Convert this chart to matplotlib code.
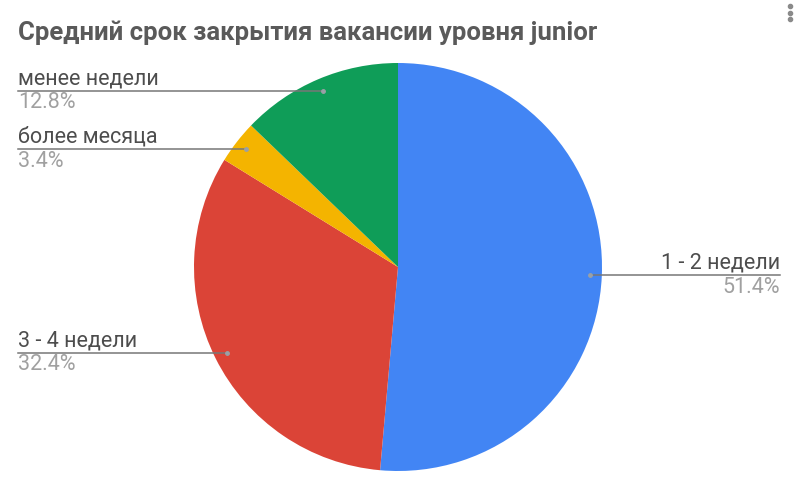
import numpy as np
import matplotlib
matplotlib.use("Agg")
import matplotlib.pyplot as plt

plt.rcParams['font.family'] = ['Roboto', 'DejaVu Sans']

# data
labels = ['1 - 2 недели', '3 - 4 недели', 'более месяца', 'менее недели']
values = [51.4, 32.4, 3.4, 12.8]
colors = ['#4285F4', '#DB4437', '#F4B400', '#0F9D58']
title = 'Средний срок закрытия вакансии уровня junior'

W, H = 800, 492
fig = plt.figure(figsize=(W / 100, H / 100), dpi=100)
ax = fig.add_axes([0, 0, 1, 1])

def Y(y):
    # pixel row (from top) -> data y
    return H - y

cx, cy, R = 398, 267, 204
wedges, _ = ax.pie(values, colors=colors, startangle=90, counterclock=False,
                   center=(cx, Y(cy)), radius=R,
                   wedgeprops=dict(linewidth=0))
ax.set_xlim(0, W)
ax.set_ylim(0, H)
ax.set_aspect('equal')
ax.axis('off')

# labels with leader lines
for w, lab, v in zip(wedges, labels, values):
    ang = np.deg2rad((w.theta1 + w.theta2) / 2)
    dx = cx + 0.94 * R * np.cos(ang)
    dy = Y(cy) + 0.94 * R * np.sin(ang)
    if np.cos(ang) >= 0:
        x_end, ha = 780, 'right'
    else:
        x_end, ha = 18, 'left'
    ax.plot([dx, x_end], [dy, dy], color='#777777', lw=1.1, zorder=3)
    ax.plot(dx, dy, 'o', ms=2.5, color='#9aa0a6', zorder=4)
    ax.text(x_end, dy + 12, lab, ha=ha, va='center', fontsize=15.5, color='#4d4d4d')
    ax.text(x_end, dy - 12, f'{v:.1f}%', ha=ha, va='center', fontsize=15.5, color='#a0a0a0')

ax.text(18, Y(33), title, ha='left', va='center', fontsize=18.5,
        fontweight='bold', color='#5a5a5a')

# menu dots in the corner
ax.plot([790, 790, 790], [Y(6), Y(13), Y(19)], 'o', ms=3, color='#8a8a8a')

fig.savefig('out.png', dpi=100)
